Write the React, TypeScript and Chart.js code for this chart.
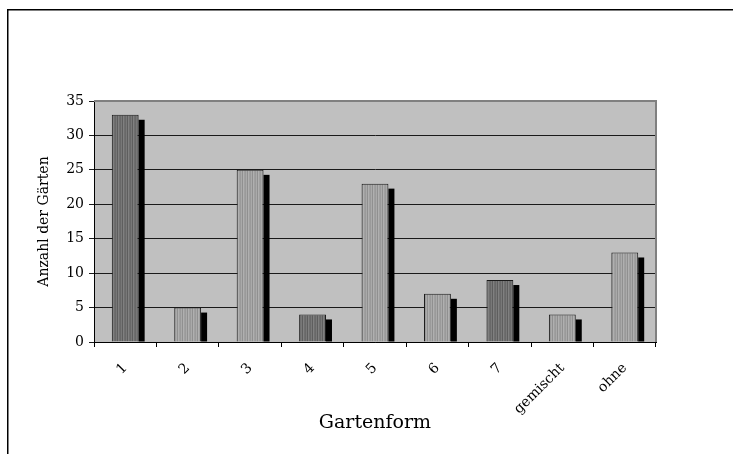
import React, { useEffect, useRef } from "react";
import { Chart, registerables } from "chart.js";

Chart.register(...registerables);

const categories = ["1", "2", "3", "4", "5", "6", "7", "gemischt", "ohne"];
const gardenCounts = [33, 5, 25, 4, 23, 7, 9, 4, 13];
const yMin = 0;
const yMax = 35;
const yStep = 5;
const xTitle = "Gartenform";
const yTitle = "Anzahl der Gärten";

// style only: which stripe pattern each bar uses
const barShades = ["dark", "light", "light", "dark", "light", "light", "dark", "light", "light"];

function makePattern(colors: string[]): CanvasPattern | string {
  const c = document.createElement("canvas");
  c.width = colors.length;
  c.height = 4;
  const g = c.getContext("2d");
  if (!g) return colors[0];
  colors.forEach((col, i) => {
    g.fillStyle = col;
    g.fillRect(i, 0, 1, 4);
  });
  return g.createPattern(c, "repeat") || colors[0];
}

const framePlugin = {
  id: "frame",
  beforeDraw(chart: any) {
    const { ctx, chartArea: a } = chart;
    ctx.save();
    ctx.fillStyle = "#ffffff";
    ctx.fillRect(0, 0, chart.width, chart.height);
    ctx.strokeStyle = "#000000";
    ctx.lineWidth = 1.5;
    ctx.strokeRect(7.75, 9.75, chart.width + 40, chart.height + 40);
    ctx.fillStyle = "#c0c0c0";
    ctx.fillRect(a.left, a.top, a.right - a.left, a.bottom - a.top);
    ctx.restore();
  },
  beforeDatasetsDraw(chart: any) {
    const { ctx, chartArea: a } = chart;
    ctx.save();
    ctx.strokeStyle = "#808080";
    ctx.lineWidth = 2;
    ctx.beginPath();
    ctx.moveTo(a.left, a.top);
    ctx.lineTo(a.right, a.top);
    ctx.lineTo(a.right, a.bottom);
    ctx.stroke();
    ctx.restore();
  },
  afterDatasetsDraw(chart: any) {
    const { ctx } = chart;
    const meta = chart.getDatasetMeta(0);
    ctx.save();
    ctx.fillStyle = "#000000";
    meta.data.forEach((el: any) => {
      const { x, y, base, width } = el.getProps(["x", "y", "base", "width"], true);
      const top = y + 5;
      if (base > top) ctx.fillRect(x + width / 2, top, 6, base - top);
    });
    ctx.restore();
  },
};

export default function App() {
  const ref = useRef<HTMLCanvasElement | null>(null);

  useEffect(() => {
    if (!ref.current) return;
    const dark = makePattern(["#686868", "#787878", "#5e5e5e", "#808080", "#6e6e6e"]);
    const light = makePattern(["#9a9a9a", "#aaaaaa", "#909090", "#b0b0b0", "#a0a0a0"]);
    const fills = barShades.map((s) => (s === "dark" ? dark : light));

    Chart.defaults.font.family = "'DejaVu Serif', serif";
    Chart.defaults.color = "#000000";

    const chart = new Chart(ref.current, {
      type: "bar",
      data: {
        labels: categories,
        datasets: [
          {
            data: gardenCounts,
            backgroundColor: fills as any,
            borderColor: "#1a1a1a",
            borderWidth: 1,
            borderSkipped: "bottom",
            categoryPercentage: 1,
            barPercentage: 0.43,
          },
        ],
      },
      options: {
        animation: false,
        responsive: false,
        devicePixelRatio: 1,
        layout: { padding: { top: 101, right: 77, left: 0, bottom: 0 } },
        plugins: {
          legend: { display: false },
          tooltip: { enabled: false },
        },
        scales: {
          x: {
            grid: {
              display: true,
              drawOnChartArea: false,
              drawTicks: true,
              tickLength: 5,
              color: "#000000",
              offset: true,
            },
            border: { display: true, color: "#000000", width: 1 },
            ticks: {
              minRotation: 45,
              maxRotation: 45,
              padding: 13,
              font: { size: 14 },
              color: "#000000",
            },
            title: {
              display: true,
              text: xTitle,
              font: { size: 19 },
              color: "#000000",
              padding: { top: 0, bottom: 20 },
            },
            afterFit(s: any) {
              s.height = 112;
            },
          },
          y: {
            min: yMin,
            max: yMax,
            ticks: {
              stepSize: yStep,
              padding: 5,
              font: { size: 14 },
              color: "#000000",
            },
            grid: {
              color: "#1a1a1a",
              lineWidth: 1,
              tickLength: 5,
            },
            border: { display: true, color: "#000000", width: 1 },
            title: {
              display: true,
              text: yTitle,
              font: { size: 14 },
              color: "#000000",
              padding: { top: 36, bottom: 0 },
            },
            afterFit(s: any) {
              s.width = 94;
            },
          },
        },
      },
      plugins: [framePlugin],
    });
    return () => chart.destroy();
  }, []);

  return (
    <div style={{ position: "absolute", left: 0, top: 0, width: 733, height: 454, overflow: "hidden" }}>
      <canvas ref={ref} width={733} height={454} style={{ width: 733, height: 454, display: "block" }} />
    </div>
  );
}
